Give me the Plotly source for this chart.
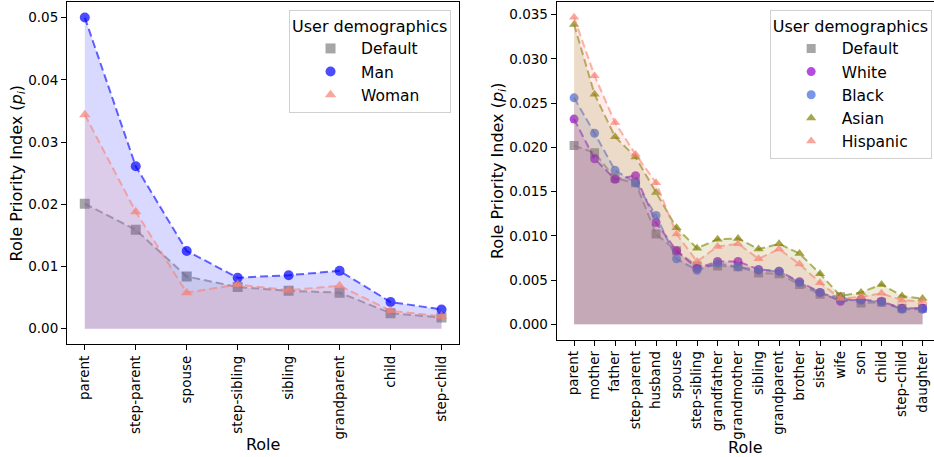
import plotly.graph_objects as go

# ---- Left panel data ----
roles_left = ["parent", "step-parent", "spouse", "step-sibling", "sibling",
              "grandparent", "child", "step-child"]
default_left = [0.0201, 0.0159, 0.0084, 0.0067, 0.0061, 0.0058, 0.0025, 0.0018]
man_left = [0.0500, 0.0261, 0.0125, 0.0082, 0.0086, 0.0093, 0.0043, 0.0031]
woman_left = [0.0344, 0.0188, 0.0058, 0.0071, 0.0062, 0.0069, 0.0029, 0.0020]

# ---- Right panel data ----
roles_right = ["parent", "mother", "father", "step-parent", "husband", "spouse",
               "step-sibling", "grandfather", "grandmother", "sibling",
               "grandparent", "brother", "sister", "wife", "son", "child",
               "step-child", "daughter"]
default_right = [0.0202, 0.0194, 0.0165, 0.0160, 0.0102, 0.0083, 0.0066, 0.0066,
                 0.0065, 0.0058, 0.0057, 0.0045, 0.0034, 0.0031, 0.0024, 0.0025,
                 0.0018, 0.0018]
white_right = [0.0232, 0.0187, 0.0164, 0.0168, 0.0115, 0.0083, 0.0063, 0.0071,
               0.0071, 0.0062, 0.0060, 0.0048, 0.0036, 0.0026, 0.0028, 0.0026,
               0.0018, 0.0018]
black_right = [0.0256, 0.0216, 0.0174, 0.0160, 0.0123, 0.0074, 0.0061, 0.0069,
               0.0065, 0.0061, 0.0060, 0.0047, 0.0036, 0.0028, 0.0027, 0.0025,
               0.0017, 0.0017]
asian_right = [0.0339, 0.0260, 0.0212, 0.0189, 0.0149, 0.0109, 0.0086, 0.0096,
               0.0097, 0.0085, 0.0091, 0.0080, 0.0057, 0.0032, 0.0036, 0.0045,
               0.0032, 0.0029]
hispanic_right = [0.0347, 0.0281, 0.0228, 0.0192, 0.0160, 0.0102, 0.0071, 0.0088,
                  0.0091, 0.0074, 0.0085, 0.0068, 0.0047, 0.0029, 0.0031, 0.0035,
                  0.0027, 0.0026]

GRAY = (128, 128, 128)
BLUE = (0, 0, 255)
SALMON = (250, 128, 114)
VIOLET = (148, 0, 211)
ROYAL = (65, 105, 225)
OLIVE = (128, 128, 0)


def rgba(c, a):
    return f"rgba({c[0]},{c[1]},{c[2]},{a})"


fig = go.Figure()


def add_series(x, y, color, symbol, name, xa, ya, legend, size):
    fig.add_trace(go.Scatter(
        x=x, y=y, mode="lines+markers", fill="tozeroy",
        fillcolor=rgba(color, 0.15),
        line=dict(color=rgba(color, 0.6), width=2, dash="8px,4px"),
        marker=dict(color=rgba(color, 0.7), size=size, symbol=symbol,
                    line=dict(width=0)),
        xaxis=xa, yaxis=ya, showlegend=False, hoverinfo="x+y"))
    fig.add_trace(go.Scatter(
        x=[None], y=[None], mode="markers", name=name, legend=legend,
        marker=dict(color=rgba(color, 0.7), size=size, symbol=symbol,
                    line=dict(width=0)),
        xaxis=xa, yaxis=ya, showlegend=True))


add_series(roles_left, default_left, GRAY, "square", "Default", "x", "y", "legend", 10)
add_series(roles_left, man_left, BLUE, "circle", "Man", "x", "y", "legend", 10)
add_series(roles_left, woman_left, SALMON, "triangle-up", "Woman", "x", "y", "legend", 10)

add_series(roles_right, default_right, GRAY, "square", "Default", "x2", "y2", "legend2", 9)
add_series(roles_right, white_right, VIOLET, "circle", "White", "x2", "y2", "legend2", 9)
add_series(roles_right, black_right, ROYAL, "circle", "Black", "x2", "y2", "legend2", 9)
add_series(roles_right, asian_right, OLIVE, "triangle-up", "Asian", "x2", "y2", "legend2", 9)
add_series(roles_right, hispanic_right, SALMON, "triangle-up", "Hispanic", "x2", "y2", "legend2", 9)

FONT = "DejaVu Sans"
tickfont = dict(family=FONT, size=13.5, color="black")
titlefont = dict(family=FONT, size=16, color="black")

common_x = dict(type="category", tickangle=-90, ticks="outside", ticklen=5,
                tickcolor="black", showline=True, linecolor="black", linewidth=1,
                showgrid=False, zeroline=False, tickfont=tickfont, automargin=False)
common_y = dict(ticks="outside", ticklen=5, tickcolor="black", showline=True,
                linecolor="black", linewidth=1, showgrid=False, zeroline=False,
                tickfont=tickfont, automargin=False)

ytitle = "Role Priority Index (<i>p</i><sub><i>i</i></sub>)"

legend_common = dict(
    bgcolor="white", bordercolor="#d0d0d0", borderwidth=1,
    font=dict(family=FONT, size=15.5, color="black"),
    title=dict(text="User demographics", font=dict(family=FONT, size=16, color="black")),
    xanchor="right", yanchor="top", itemwidth=51, tracegroupgap=0,
)

fig.update_layout(
    width=934, height=457,
    margin=dict(l=0, r=0, t=0, b=0, autoexpand=False),
    paper_bgcolor="white", plot_bgcolor="white",
    font=dict(family=FONT, color="black"),
    xaxis=dict(common_x, domain=[0.0717, 0.4918], range=[-0.35, 7.35],
               mirror=True, anchor="y",
               title=dict(text="Role", font=titlefont, standoff=0)),
    yaxis=dict(common_y, domain=[0.2466, 0.9956], range=[-0.0025, 0.0525],
               dtick=0.01, tickformat=".2f", mirror=True, anchor="x",
               title=dict(text=ytitle, font=titlefont, standoff=1)),
    xaxis2=dict(common_x, domain=[0.596, 1.0], range=[-0.85, 17.56],
                mirror=True, anchor="y2",
                title=dict(text="Role", font=titlefont, standoff=0)),
    yaxis2=dict(common_y, domain=[0.2569, 0.9956], range=[-0.001735, 0.036435],
                dtick=0.005, tickformat=".3f", mirror=False, anchor="x2",
                title=dict(text=ytitle, font=titlefont, standoff=1)),
    legend=dict(legend_common, x=0.4829, y=0.978, indentation=10),
    legend2=dict(legend_common, x=0.9975, y=0.978, indentation=10),
)

fig.write_html("out.html",
               config={"displayModeBar": False},
               post_script="document.body.style.margin='0';document.body.style.overflow='hidden';")
